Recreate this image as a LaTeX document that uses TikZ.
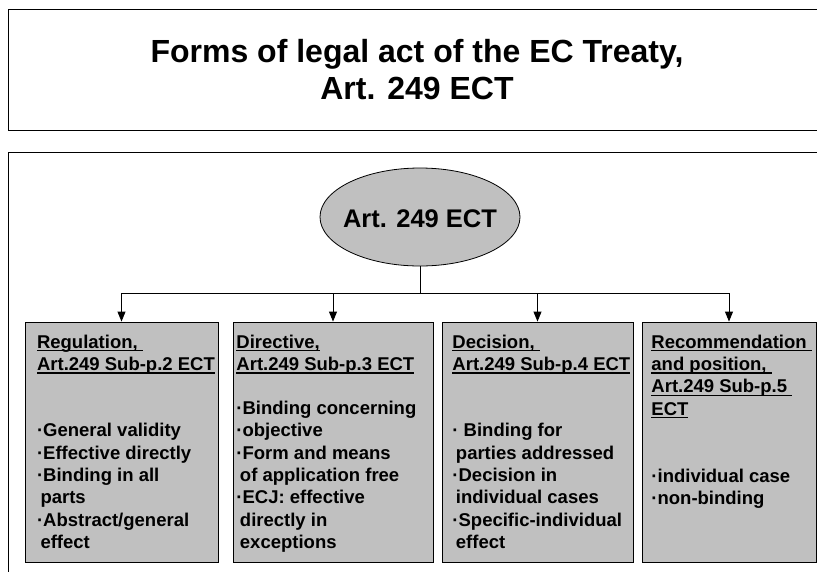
\documentclass[tikz,border=0pt]{standalone}
\usepackage{fontspec}
\setmainfont{Liberation Sans}
\usetikzlibrary{arrows.meta,positioning,shapes.geometric}
\definecolor{boxgray}{HTML}{C0C0C0}
\newcommand\hd[1]{\setbox0=\hbox{#1}\rlap{\rule[-3pt]{\wd0}{1.3pt}}\box0}
\newcommand\ind{\hspace*{3.5pt}}
\tikzset{
  frame/.style={draw=black, line width=1pt},
  titlebox/.style={frame, minimum width=817.5pt, minimum height=120.5pt, align=center,
    font=\fontsize{32}{37.5}\selectfont\bfseries},
  actbox/.style={draw=black, line width=0.9pt, fill=boxgray, minimum height=240pt, inner sep=0pt},
  hub/.style={ellipse, draw=black, line width=0.8pt, fill=boxgray, minimum width=200pt,
    minimum height=98pt, inner xsep=-10pt, inner ysep=0pt, text height=22pt,
    font=\fontsize{25.5}{30}\selectfont\bfseries},
  boxtext/.style={anchor=north west, align=left, inner sep=0pt,
    font=\fontsize{18.5}{22.3}\selectfont\bfseries},
  link/.style={line width=0.9pt},
  arr/.style={-{Triangle[length=10pt,width=8pt]}, line width=0.9pt}
}
\begin{document}
\begin{tikzpicture}[x=1pt, y=-1pt]
  \useasboundingbox (0,0) rectangle (817,571);
  \clip (0,0) rectangle (817,571);

  % heading
  \node[titlebox] (title) at (417,69.75) {Forms of legal act of the EC Treaty,\\Art. 249 ECT};
  \draw[frame] (8.5,152.5) rectangle (830,590);

  % centre
  \node[hub] (art) at (420,217) {Art. 249 ECT};
  \coordinate (bus) at (418,293);

  % four forms
  \node[actbox, minimum width=193pt] (reg) at (121.5,442) {};
  \node[actbox, minimum width=200pt] (dir) at (333,442) {};
  \node[actbox, minimum width=191pt] (dec) at (537.5,442) {};
  \node[actbox, minimum width=174pt] (rec) at (729,442) {};

  \draw[link] (art.south) -- (art.south |- bus);
  \draw[link] (reg.north |- bus) -- (rec.north |- bus);
  \foreach \b in {reg,dir,dec,rec}
    \draw[arr] (\b.north |- bus) -- (\b.north);

  \node[boxtext] (regtxt) at ([shift={(12.3,11)}]reg.north west)
    {\strut\hd{Regulation,\ }\\\hd{Art.249 Sub-p.2 ECT}\\[44pt]
     ·General validity\\·Effective directly\\·Binding in all\\\ind parts\\
     ·Abstract/general\\\ind effect};
  \node[boxtext] (dirtxt) at ([shift={(3.7,11)}]dir.north west)
    {\strut\hd{Directive,}\\\hd{Art.249 Sub-p.3 ECT}\\[21.7pt]
     ·Binding concerning\\·objective\\·Form and means\\\ind of application free\\
     ·ECJ: effective\\\ind directly in\\\ind exceptions};
  \node[boxtext] (dectxt) at ([shift={(10.7,11)}]dec.north west)
    {\strut\hd{Decision,\ }\\\hd{Art.249 Sub-p.4 ECT}\\[44pt]
     · Binding for\\\ind parties addressed\\·Decision in\\\ind individual cases\\
     ·Specific-individual\\\ind effect};
  \node[boxtext] (rectxt) at ([shift={(9.7,11)}]rec.north west)
    {\strut\hd{Recommendation\ }\\\hd{and position,\ }\\\hd{Art.249 Sub-p.5\ }\\\hd{ECT}\\[44.7pt]
     ·individual case\\·non-binding};
\end{tikzpicture}
\end{document}
